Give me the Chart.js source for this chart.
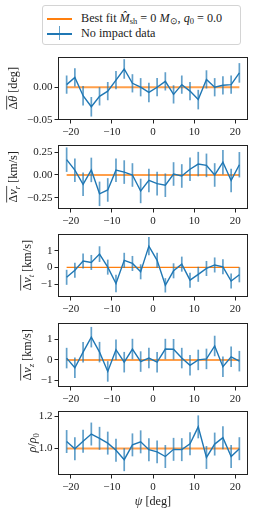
<!DOCTYPE html>
<html>
<head>
<meta charset="utf-8">
<script src="https://cdn.jsdelivr.net/npm/chart.js@4.4.1/dist/chart.umd.min.js"></script>
<style>
  body{margin:0;width:254px;height:512px;background:#fff;position:relative;overflow:hidden;font-family:"Liberation Serif",serif;color:#222;}
  .panel{position:absolute;left:0;width:254px;}
  #legend{position:absolute;left:42px;top:5px;width:199px;height:40px;border:1px solid #d4d4d4;border-radius:3px;box-sizing:border-box;font-size:12.2px;background:#fff;}
  .row{position:absolute;left:0;right:0;height:14px;line-height:14px;white-space:nowrap;}
  .hl{position:absolute;left:4px;width:25px;top:7px;height:1.5px;}
  .txt{position:absolute;left:38px;top:0;}
  .eb{position:absolute;left:15.5px;top:0;width:1.6px;height:14px;background:rgba(31,119,180,0.7);}
  sub{font-size:8.5px;vertical-align:-2px;line-height:0;}
</style>
</head>
<body>
<div id="legend">
  <div class="row" style="top:5px"><div class="hl" style="background:#ff7f0e"></div><span class="txt">Best fit <i>M&#770;</i><sub>sh</sub> = 0 <i>M</i><sub>&#8857;</sub>, <i>q</i><sub>0</sub> = 0.0</span></div>
  <div class="row" style="top:20px"><div class="hl" style="background:#1f77b4"></div><div class="eb"></div><span class="txt">No impact data</span></div>
</div>
<script>
// stream angle bins
const psi = [-21,-19,-17,-15,-13,-11,-9,-7,-5,-3,-1,1,3,5,7,9,11,13,15,17,19,21];
const fitX = [-21, 21];
const xTicks = [-20,-10,0,10,20];

// mean offsets per bin
const dTheta = [0.004,0.015,-0.013,-0.030,-0.014,-0.006,0.011,0.028,0.006,0.000,-0.008,0.000,0.009,-0.011,0.004,-0.006,-0.019,0.012,0.000,0.003,0.004,0.022];
const eTheta = [0.014,0.014,0.015,0.015,0.014,0.014,0.014,0.015,0.014,0.014,0.015,0.014,0.014,0.014,0.014,0.014,0.015,0.014,0.014,0.014,0.014,0.015];
const dVr = [0.169,0.053,-0.102,0.056,-0.208,-0.165,0.053,0.032,0.000,-0.176,-0.060,-0.095,-0.113,0.011,-0.011,0.063,0.120,0.106,0.000,0.141,-0.060,0.113];
const eVr = [0.135,0.13,0.13,0.135,0.135,0.13,0.13,0.13,0.13,0.135,0.13,0.13,0.13,0.13,0.13,0.13,0.135,0.13,0.13,0.135,0.13,0.14];
const dVt = [-0.59,-0.17,0.39,0.30,0.80,0.02,-0.96,0.43,0.24,-0.26,1.28,0.43,-1.07,-0.20,0.20,-0.76,-0.41,-0.06,0.15,0.04,-0.81,-0.44];
const eVt = [0.45,0.45,0.45,0.45,0.47,0.45,0.53,0.45,0.45,0.45,0.55,0.45,0.43,0.45,0.45,0.45,0.45,0.45,0.45,0.45,0.45,0.45];
const dVz = [0.09,-0.38,0.38,1.11,0.38,-0.56,0.50,-0.11,0.53,-0.08,0.09,-0.11,0.53,0.52,0.09,-0.26,0.00,0.05,0.68,-0.33,0.15,-0.06];
const eVz = [0.50,0.50,0.50,0.50,0.50,0.50,0.50,0.50,0.50,0.50,0.50,0.50,0.50,0.50,0.50,0.50,0.50,0.50,0.50,0.50,0.50,0.50];
const rho = [1.043,0.998,1.045,1.090,1.063,1.033,0.988,0.929,1.022,1.041,0.992,0.978,0.949,0.994,0.992,1.029,1.135,0.943,1.027,1.067,0.949,0.998];
const eRho = [0.072,0.072,0.072,0.072,0.072,0.072,0.072,0.072,0.072,0.072,0.072,0.072,0.072,0.072,0.072,0.072,0.072,0.072,0.072,0.072,0.072,0.072];

const fitLevels = [0, 0, 0, 0, 1.0];
const yTicks = [[-0.05,0.00],[-0.25,0.00,0.25],[-1,0,1],[-1,0,1],[1.0,1.2]];
const yDecimals = [2,2,0,0,1];
const yRanges = [[-0.0503,0.047],[-0.375,0.335],[-1.77,2.03],[-1.32,1.82],[0.833,1.237]];

const FONT = '"Liberation Serif", serif';
const INK = '#222';
const TICK_SIZE = 11;
const LABEL_SIZE = 12.2;

const panels = [
  {top:52, h:68, vals:dTheta, errs:eTheta, labelX:13, fitW:2, fitC:'rgba(255,127,14,0.75)',
   label:[{t:'Δ',o:1},{t:'θ',i:1,o:1},{t:' [deg]'}]},
  {top:140, h:69, vals:dVr, errs:eVr, labelX:13, fitW:2, fitC:'rgba(255,127,14,0.75)',
   label:[{t:'Δ',o:1},{t:'v',i:1,o:1},{t:'r',i:1,s:1,o:1},{t:' [km/s]'}]},
  {top:229, h:68, vals:dVt, errs:eVt, labelX:27, fitW:1.3, fitC:'#ff7f0e',
   label:[{t:'Δ',o:1},{t:'v',i:1,o:1},{t:'t',i:1,s:1,o:1},{t:' [km/s]'}]},
  {top:318, h:69, vals:dVz, errs:eVz, labelX:27, fitW:2, fitC:'rgba(255,127,14,0.75)',
   label:[{t:'Δ',o:1},{t:'v',i:1,o:1},{t:'z',i:1,s:1,o:1},{t:' [km/s]'}]},
  {top:406, h:69, vals:rho, errs:eRho, labelX:32, fitW:2, fitC:'rgba(255,127,14,0.75)',
   label:[{t:'ρ',i:1},{t:'/'},{t:'ρ',i:1},{t:'0',s:1}]}
];

function fmt(v, d){ return (v < 0 ? '\u2212' : '') + Math.abs(v).toFixed(d); }

// draw a run of text pieces (italic / subscript / overline) centred on x=0
function drawPieces(ctx, pieces, size){
  const widths = pieces.map(p=>{
    ctx.font = (p.i?'italic ':'') + (p.s?size*0.7:size) + 'px ' + FONT;
    return ctx.measureText(p.t).width;
  });
  const total = widths.reduce((a,b)=>a+b,0);
  let x = -total/2, ox0 = null, ox1 = null;
  pieces.forEach((p,k)=>{
    ctx.font = (p.i?'italic ':'') + (p.s?size*0.7:size) + 'px ' + FONT;
    ctx.fillText(p.t, x, p.s ? size*0.25 : 0);
    if(p.o){ if(ox0===null) ox0 = x; ox1 = x + widths[k]; }
    x += widths[k];
  });
  if(ox0!==null){
    ctx.beginPath(); ctx.lineWidth = 0.8; ctx.strokeStyle = INK;
    ctx.moveTo(ox0, -size*0.85); ctx.lineTo(ox1, -size*0.85); ctx.stroke();
  }
}

const errorBars = {
  id:'errorBars',
  afterDatasetDraw(chart, args){
    if(args.index !== 1) return;
    const ds = chart.data.datasets[0];
    const xs = chart.scales.x, ys = chart.scales.y, ctx = chart.ctx;
    ctx.save();
    ctx.strokeStyle = 'rgba(31,119,180,0.7)';
    ctx.lineWidth = 1.7;
    ds.data.forEach((p,i)=>{
      const px = xs.getPixelForValue(p.x);
      ctx.beginPath();
      ctx.moveTo(px, ys.getPixelForValue(p.y - ds.errs[i]));
      ctx.lineTo(px, ys.getPixelForValue(p.y + ds.errs[i]));
      ctx.stroke();
    });
    ctx.restore();
  }
};

const frameAndLabels = {
  id:'frameAndLabels',
  afterDraw(chart){
    const a = chart.chartArea, ctx = chart.ctx, o = chart.options.plugins.frameAndLabels;
    ctx.save();
    ctx.strokeStyle = INK; ctx.lineWidth = 1;
    ctx.strokeRect(Math.round(a.left)+0.5, Math.round(a.top)+0.5, Math.round(a.right-a.left)-1, Math.round(a.bottom-a.top)-1);
    ctx.fillStyle = INK; ctx.textBaseline = 'alphabetic';
    ctx.save();
    ctx.translate(o.labelX, (a.top+a.bottom)/2);
    ctx.rotate(-Math.PI/2);
    ctx.translate(0, 4);
    drawPieces(ctx, o.label, LABEL_SIZE);
    ctx.restore();
    if(o.xLabel){
      ctx.save();
      ctx.translate((a.left+a.right)/2, a.bottom + 30);
      drawPieces(ctx, o.xLabel, LABEL_SIZE);
      ctx.restore();
    }
    ctx.restore();
  }
};

panels.forEach((p, n)=>{
  const last = n === panels.length-1;
  const div = document.createElement('div');
  div.className = 'panel';
  const H = p.h + 4 + (last ? 40 : 22);
  div.style.top = (p.top - 4) + 'px';
  div.style.height = H + 'px';
  const cv = document.createElement('canvas');
  cv.width = 254; cv.height = H;
  div.appendChild(cv);
  document.body.appendChild(div);

  new Chart(cv, {
    type:'line',
    data:{datasets:[
      {data: psi.map((x,i)=>({x, y:p.vals[i]})), errs:p.errs, borderColor:'#1f77b4', borderWidth:1.4, pointRadius:0, tension:0, fill:false},
      {data: fitX.map(x=>({x, y:fitLevels[n]})), borderColor:p.fitC, borderWidth:p.fitW, pointRadius:0, fill:false}
    ]},
    options:{
      responsive:false, animation:false, devicePixelRatio:1,
      layout:{padding:{top:4, right:6, left:0, bottom:0}},
      plugins:{
        legend:{display:false}, tooltip:{enabled:false},
        frameAndLabels:{labelX:p.labelX, label:p.label, xLabel: last ? [{t:'ψ',i:1},{t:' [deg]'}] : null}
      },
      scales:{
        x:{
          type:'linear', min:-23.1, max:23.1,
          afterBuildTicks: s=>{ s.ticks = xTicks.map(v=>({value:v})); },
          afterFit: s=>{ s.height = last ? 40 : 22; },
          grid:{drawOnChartArea:false, drawTicks:true, tickLength:3.5, color:INK},
          border:{display:false},
          ticks:{autoSkip:false, maxRotation:0, padding:2, color:INK, font:{family:FONT, size:TICK_SIZE}, callback:v=>fmt(v,0)}
        },
        y:{
          min:yRanges[n][0], max:yRanges[n][1],
          afterBuildTicks: s=>{ s.ticks = yTicks[n].map(v=>({value:v})); },
          afterFit: s=>{ s.width = 58; },
          grid:{drawOnChartArea:false, drawTicks:true, tickLength:3.5, color:INK},
          border:{display:false},
          ticks:{autoSkip:false, padding:2, color:INK, font:{family:FONT, size:TICK_SIZE}, callback:v=>fmt(v, yDecimals[n])}
        }
      }
    },
    plugins:[errorBars, frameAndLabels]
  });
});
</script>
</body>
</html>
